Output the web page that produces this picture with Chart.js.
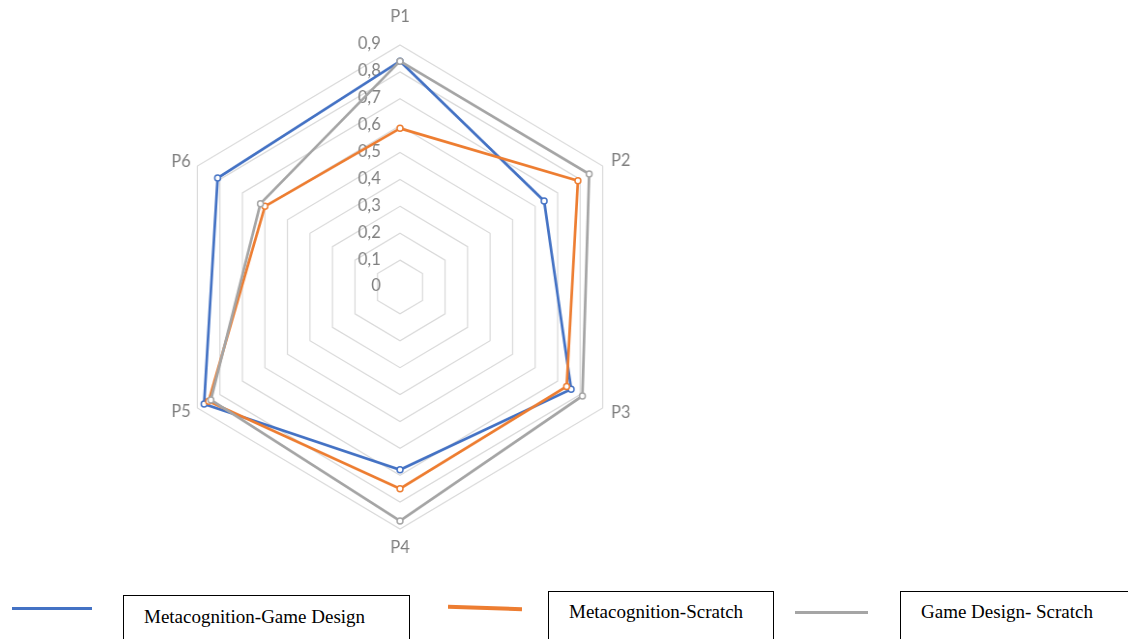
<!DOCTYPE html>
<html lang="en">
<head>
    <meta charset="UTF-8">
    <title>Radar P1-P6</title>
    <style>
        body {
            margin: 0;
            width: 1128px;
            height: 639px;
            overflow: hidden;
            background: #ffffff;
            position: relative;
        }
        .chart-box {
            position: absolute;
            left: 0;
            top: 0;
            width: 1128px;
            height: 585px;
            /* the original picture is a little narrower than it is tall */
            transform: scaleX(0.967);
            transform-origin: 400px 0;
        }
        .swatch {
            position: absolute;
        }
        .legend-box {
            position: absolute;
            border: 1px solid #000;
            box-sizing: border-box;
            font-family: "Liberation Serif", "Times New Roman", serif;
            font-size: 19px;
            line-height: 22px;
            color: #000;
            padding-left: 20px;
            white-space: nowrap;
        }
    </style>
    <script src="https://cdn.jsdelivr.net/npm/chart.js"></script>
</head>
<body>
    <div class="chart-box"><canvas id="radarChart"></canvas></div>

    <div class="swatch" style="left:12px; top:607px; width:80px; height:3px; background:#4472C4;"></div>
    <div class="legend-box" id="leg0" style="left:123px; top:595px; width:287px; height:60px; padding-top:10px;"></div>

    <div class="swatch" style="left:448px; top:606px; width:74px; height:4px; background:#ED7D31; transform:rotate(2deg);"></div>
    <div class="legend-box" id="leg1" style="left:548px; top:591px; width:226px; height:60px; padding-top:9px;"></div>

    <div class="swatch" style="left:795px; top:611px; width:73px; height:3px; background:#A5A5A5;"></div>
    <div class="legend-box" id="leg2" style="left:900px; top:591px; width:240px; height:60px; padding-top:9px;"></div>

    <script>
        // axes
        const categories = ['P1', 'P2', 'P3', 'P4', 'P5', 'P6'];
        const tickValues = [0, 0.1, 0.2, 0.3, 0.4, 0.5, 0.6, 0.7, 0.8, 0.9];

        // series
        const seriesNames = ['Metacognition-Game Design', 'Metacognition-Scratch', 'Game Design- Scratch'];
        const gameDesign = [0.84, 0.64, 0.76, 0.68, 0.87, 0.81];
        const scratch = [0.59, 0.79, 0.74, 0.75, 0.85, 0.60];
        const gameDesignScratch = [0.84, 0.84, 0.81, 0.87, 0.84, 0.62];

        const colors = ['#4472C4', '#ED7D31', '#A5A5A5'];

        seriesNames.forEach((name, i) => {
            document.getElementById('leg' + i).textContent = name;
        });

        function fmt(v) {
            return v === 0 ? '0' : v.toFixed(1).replace('.', ',');
        }

        // tick labels left of the vertical axis, drawn under the lines
        const tickLabelPlugin = {
            id: 'tickLabels',
            beforeDatasetsDraw(chart) {
                const scale = chart.scales.r;
                const ctx = chart.ctx;
                ctx.save();
                ctx.font = '17px Lato, "Open Sans", sans-serif';
                ctx.fillStyle = '#7f7f7f';
                ctx.textAlign = 'right';
                ctx.textBaseline = 'middle';
                tickValues.forEach(v => {
                    const d = scale.getDistanceFromCenterForValue(v);
                    ctx.fillText(fmt(v), scale.xCenter - 20, scale.yCenter - d - 1);
                });
                ctx.restore();
            }
        };

        // category labels around the hexagon
        const pointLabelPlugin = {
            id: 'catLabels',
            afterDraw(chart) {
                const scale = chart.scales.r;
                const ctx = chart.ctx;
                const gap = [20, 10, 10, 10, 8, 8];
                const align = ['center', 'left', 'left', 'center', 'right', 'right'];
                const base = ['bottom', 'middle', 'middle', 'top', 'middle', 'middle'];
                ctx.save();
                ctx.font = '17px Lato, "Open Sans", sans-serif';
                ctx.fillStyle = '#7f7f7f';
                categories.forEach((c, i) => {
                    const p = scale.getPointPosition(i, scale.drawingArea + gap[i]);
                    ctx.textAlign = align[i];
                    ctx.textBaseline = base[i];
                    ctx.fillText(c, p.x, p.y);
                });
                ctx.restore();
            }
        };

        function makeSet(label, data, color, order) {
            return {
                label: label,
                data: data,
                borderColor: color,
                backgroundColor: 'transparent',
                borderWidth: 2.75,
                fill: false,
                pointRadius: 3,
                pointBorderWidth: 1.5,
                pointBorderColor: color,
                pointBackgroundColor: '#ffffff',
                order: order
            };
        }

        new Chart(document.getElementById('radarChart'), {
            type: 'radar',
            data: {
                labels: categories,
                datasets: [
                    makeSet(seriesNames[0], gameDesign, colors[0], 2),
                    makeSet(seriesNames[1], scratch, colors[1], 1),
                    makeSet(seriesNames[2], gameDesignScratch, colors[2], 0)
                ]
            },
            options: {
                responsive: true,
                maintainAspectRatio: false,
                animation: false,
                layout: {
                    padding: { left: 158, right: 486, top: 45, bottom: 56 }
                },
                plugins: {
                    legend: { display: false },
                    tooltip: { enabled: false }
                },
                scales: {
                    r: {
                        min: 0,
                        max: 0.9,
                        ticks: { stepSize: 0.1, display: false },
                        grid: { color: '#d9d9d9', lineWidth: 1.2 },
                        angleLines: { display: false },
                        pointLabels: { display: false }
                    }
                }
            },
            plugins: [tickLabelPlugin, pointLabelPlugin]
        });
    </script>
</body>
</html>
